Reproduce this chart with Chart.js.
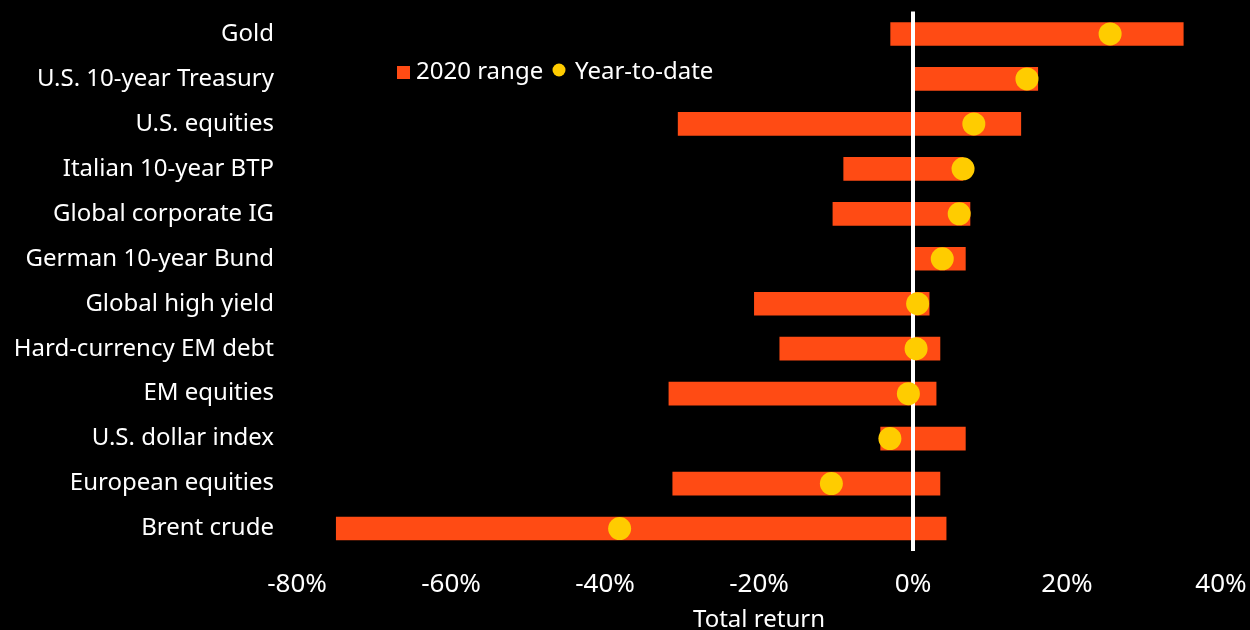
<!DOCTYPE html>
<html>
<head>
<meta charset="utf-8">
<script src="https://cdn.jsdelivr.net/npm/chart.js@4.4.1/dist/chart.umd.min.js"></script>
<style>
  html, body { margin: 0; padding: 0; background: #000; overflow: hidden; }
  #wrap { width: 1250px; height: 635px; position: relative; }
</style>
</head>
<body>
<div id="wrap"><canvas id="rangeChart"></canvas></div>
<script>
var categories = [
  "Gold", "U.S. 10-year Treasury", "U.S. equities", "Italian 10-year BTP",
  "Global corporate IG", "German 10-year Bund", "Global high yield",
  "Hard-currency EM debt", "EM equities", "U.S. dollar index",
  "European equities", "Brent crude"
];
var rangeLow  = [-2.9, 0, -30.5, -9.0, -10.4, 0, -20.6, -17.3, -31.7, -4.2, -31.2, -74.9];
var rangeHigh = [35.1, 16.2, 14.0, 6.5, 7.4, 6.8, 2.1, 3.5, 3.0, 6.8, 3.5, 4.3];
var ytd       = [25.6, 14.8, 7.9, 6.5, 6.0, 3.8, 0.6, 0.4, -0.6, -3.0, -10.6, -38.1];
var xTicks = [-80, -60, -40, -20, 0, 20, 40];

var orange = "#ff4b14";
var yellow = "#ffcc00";
var fontFam = "'Noto Sans', 'DejaVu Sans', sans-serif";

var ranges = rangeLow.map(function (lo, i) { return [lo, rangeHigh[i]]; });

// white zero line, drawn after the bars but under the dots
var zeroLine = {
  id: "zeroLine",
  afterDatasetDraw: function (chart, args) {
    if (args.meta.type !== "bar") return;
    var x = chart.scales.x.getPixelForValue(0);
    var area = chart.chartArea;
    var c = chart.ctx;
    c.save();
    c.strokeStyle = "#fff";
    c.lineWidth = 4;
    c.beginPath();
    c.moveTo(x, area.top);
    c.lineTo(x, area.bottom);
    c.stroke();
    c.restore();
  }
};

// legend sits inside the plot, near the top left
var insideLegend = {
  id: "insideLegend",
  afterDraw: function (chart) {
    var c = chart.ctx;
    c.save();
    c.font = "24px " + fontFam;
    c.textBaseline = "middle";
    c.fillStyle = orange;
    c.fillRect(397, 66, 13, 13);
    c.fillStyle = "#fff";
    c.fillText("2020 range", 416, 72);
    c.fillStyle = yellow;
    c.beginPath();
    c.arc(559, 70, 6.5, 0, Math.PI * 2);
    c.fill();
    c.fillStyle = "#fff";
    c.fillText("Year-to-date", 575, 72);
    c.restore();
  }
};

var ctx = document.getElementById("rangeChart").getContext("2d");
new Chart(ctx, {
  data: {
    labels: categories,
    datasets: [
      {
        type: "line",
        label: "Year-to-date",
        data: ytd,
        indexAxis: "y",
        showLine: false,
        pointRadius: 11.5,
        pointHoverRadius: 11.5,
        pointBackgroundColor: yellow,
        pointBorderWidth: 0,
        order: 0
      },
      {
        type: "bar",
        label: "2020 range",
        data: ranges,
        indexAxis: "y",
        backgroundColor: orange,
        barThickness: 23,
        order: 1
      }
    ]
  },
  options: {
    indexAxis: "y",
    responsive: true,
    maintainAspectRatio: false,
    animation: false,
    layout: { padding: { top: 11, right: 29, left: 0, bottom: 0 } },
    plugins: {
      legend: { display: false },
      tooltip: { enabled: false }
    },
    scales: {
      x: {
        type: "linear",
        min: -80,
        max: 40,
        afterBuildTicks: function (scale) {
          scale.ticks = xTicks.map(function (v) { return { value: v }; });
        },
        grid: { display: false },
        border: { display: false },
        ticks: {
          color: "#fff",
          padding: 10,
          font: { family: fontFam, size: 26 },
          callback: function (v) { return v + "%"; }
        },
        title: {
          display: true,
          text: "Total return",
          color: "#fff",
          font: { family: fontFam, size: 24 },
          padding: { top: 4, bottom: 0 }
        },
        afterFit: function (scale) {
          scale.height = 84;
          scale.paddingLeft = 0;
          scale.paddingRight = 0;
        }
      },
      y: {
        type: "category",
        offset: true,
        grid: { display: false, drawTicks: false },
        border: { display: false },
        ticks: {
          color: "#fff",
          padding: 23,
          font: { family: fontFam, size: 24 }
        },
        afterFit: function (scale) {
          scale.width = 297;
          scale.paddingTop = 0;
          scale.paddingBottom = 0;
        }
      }
    }
  },
  plugins: [zeroLine, insideLegend]
});
</script>
</body>
</html>
